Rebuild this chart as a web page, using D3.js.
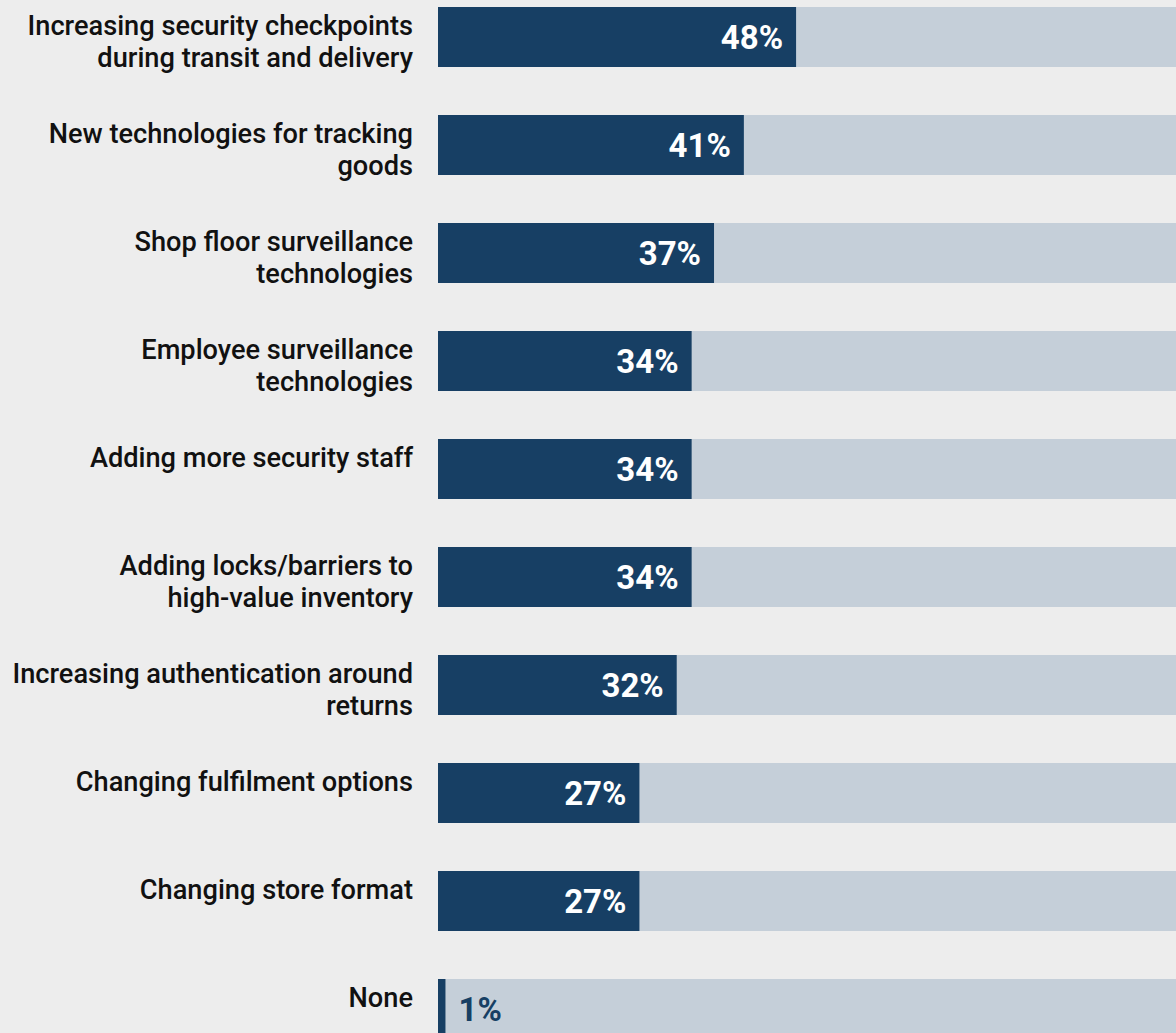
<!DOCTYPE html>
<html>
<head>
<meta charset="utf-8">
<script src="https://cdn.jsdelivr.net/npm/d3@7"></script>
<style>
  html, body { margin: 0; padding: 0; background: #ededed; overflow: hidden; }
  svg { display: block; }
</style>
</head>
<body>
<svg id="chart" width="1176" height="1033"></svg>
<script>
// Measures, one per row (label lines split where they wrap)
const categories = [
  ["Increasing security checkpoints", "during transit and delivery"],
  ["New technologies for tracking", "goods"],
  ["Shop floor surveillance", "technologies"],
  ["Employee surveillance", "technologies"],
  ["Adding more security staff"],
  ["Adding locks/barriers to", "high-value inventory"],
  ["Increasing authentication around", "returns"],
  ["Changing fulfilment options"],
  ["Changing store format"],
  ["None"]
];
const values = [48, 41, 37, 34, 34, 34, 32, 27, 27, 1];

const svg = d3.select("#chart");
const barLeft = 438, labelRight = 413;
const rowStep = 108, barH = 60, top0 = 7;
const pad = (rowStep - barH) / rowStep;

const x = d3.scaleLinear().domain([0, 100]).range([barLeft, barLeft + 746]);
const y = d3.scaleBand()
  .domain(d3.range(values.length))
  .range([top0, top0 + rowStep * (values.length - pad)])
  .paddingInner(pad)
  .paddingOuter(0)
  .align(0);

const rows = svg.selectAll("g.row")
  .data(values.map((v, i) => ({ v, lines: categories[i], i })))
  .join("g").attr("class", "row")
  .attr("transform", d => `translate(0,${y(d.i)})`);

// full-scale track
rows.append("rect")
  .attr("x", x(0)).attr("y", 0)
  .attr("width", x(100) - x(0)).attr("height", y.bandwidth())
  .attr("fill", "#c5cfd9");

// value bar
rows.append("rect")
  .attr("x", x(0)).attr("y", 0)
  .attr("width", d => x(d.v) - x(0)).attr("height", y.bandwidth())
  .attr("fill", "#173f64");

// category label
rows.append("text")
  .attr("text-anchor", "end")
  .attr("font-family", "Roboto, sans-serif")
  .attr("font-weight", 500)
  .attr("font-size", 27.2)
  .attr("fill", "#111")
  .selectAll("tspan")
  .data(d => d.lines)
  .join("tspan")
  .attr("x", labelRight)
  .attr("y", (l, j) => 28 + j * 31.5)
  .text(l => l);

// value label: inside the bar when it fits, otherwise just past it
rows.append("text")
  .attr("font-family", "Roboto, sans-serif")
  .attr("font-weight", 700)
  .attr("font-size", 33)
  .attr("y", 42)
  .attr("x", d => d.v >= 10 ? x(d.v) - 13 : x(d.v) + 13)
  .attr("text-anchor", d => d.v >= 10 ? "end" : "start")
  .attr("fill", d => d.v >= 10 ? "#ffffff" : "#173f64")
  .text(d => d.v + "%");
</script>
</body>
</html>
